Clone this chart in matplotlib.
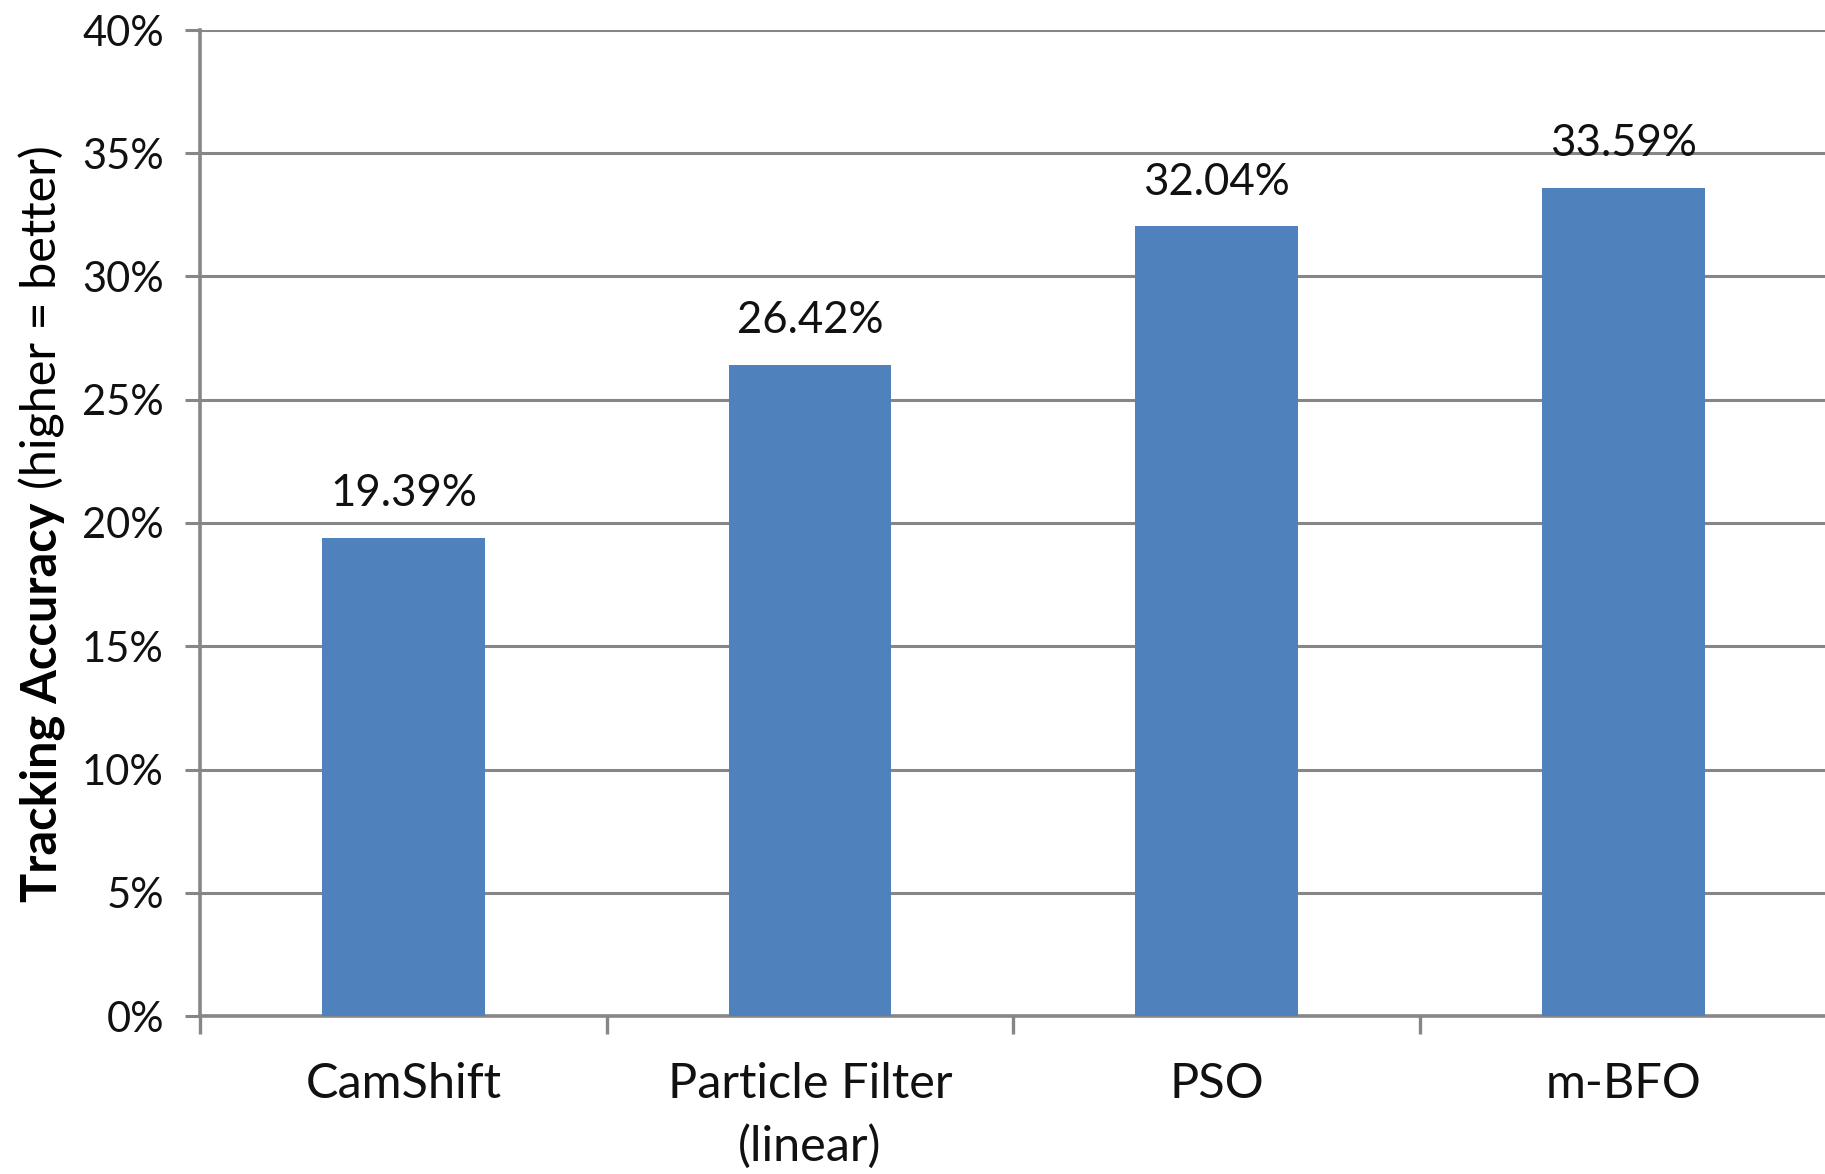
import matplotlib
matplotlib.use("Agg")
import matplotlib.pyplot as plt
from matplotlib.ticker import FuncFormatter, FixedLocator

# tracking accuracy per method (percent)
methods = ["CamShift", "Particle Filter\n(linear)", "PSO", "m-BFO"]
accuracy = [19.39, 26.42, 32.04, 33.59]
y_ticks = [0, 5, 10, 15, 20, 25, 30, 35, 40]

plt.rcParams['font.family'] = ['Lato', 'DejaVu Sans']

W, H = 1825, 1174
fig = plt.figure(figsize=(W / 100, H / 100), dpi=100)
ax = fig.add_axes([200 / W, 158 / H, 1 - 200 / W + 0.001, (1016 - 30) / H])

x = range(len(methods))
ax.bar(x, accuracy, width=0.40, color="#4F81BD", zorder=3)

for xi, v in zip(x, accuracy):
    ax.annotate(f"{v:.2f}%", (xi, v), xytext=(0, 17), textcoords="offset points",
                ha="center", va="bottom", fontsize=31.5, color="#111111")

ax.set_xlim(-0.5, 3.5)
ax.set_ylim(0, 40)
ax.set_yticks(y_ticks)
ax.yaxis.set_major_formatter(FuncFormatter(lambda v, p: f"{v:.0f}%"))

ax.set_xticks(list(x))
ax.set_xticklabels(methods, fontsize=35, linespacing=1.5)
ax.xaxis.set_minor_locator(FixedLocator([-0.5, 0.5, 1.5, 2.5, 3.5]))
ax.tick_params(axis="x", which="major", length=0, pad=33, colors="#111111")
ax.tick_params(axis="x", which="minor", length=13, width=2.4, color="#868686")
ax.tick_params(axis="y", length=11, width=2.2, color="#868686", pad=15,
               labelsize=30, labelcolor="#111111")

ax.grid(axis="y", color="#868686", linewidth=2.2, zorder=0)
for side in ["top", "right"]:
    ax.spines[side].set_visible(False)
for side in ["left", "bottom"]:
    ax.spines[side].set_color("#868686")
    ax.spines[side].set_linewidth(2.6)

# y label: bold part followed by a regular part
lab_x = 42 / W
t1 = fig.text(lab_x, 1 - 902 / H, "Tracking Accuracy", rotation=90,
              ha="center", va="bottom", fontsize=35, fontweight="bold")
fig.canvas.draw()
bb = t1.get_window_extent()
fig.text(lab_x, (bb.y1 + 14) / H, "(higher = better)", rotation=90,
         ha="center", va="bottom", fontsize=35)

fig.savefig("out.png", dpi=100)
